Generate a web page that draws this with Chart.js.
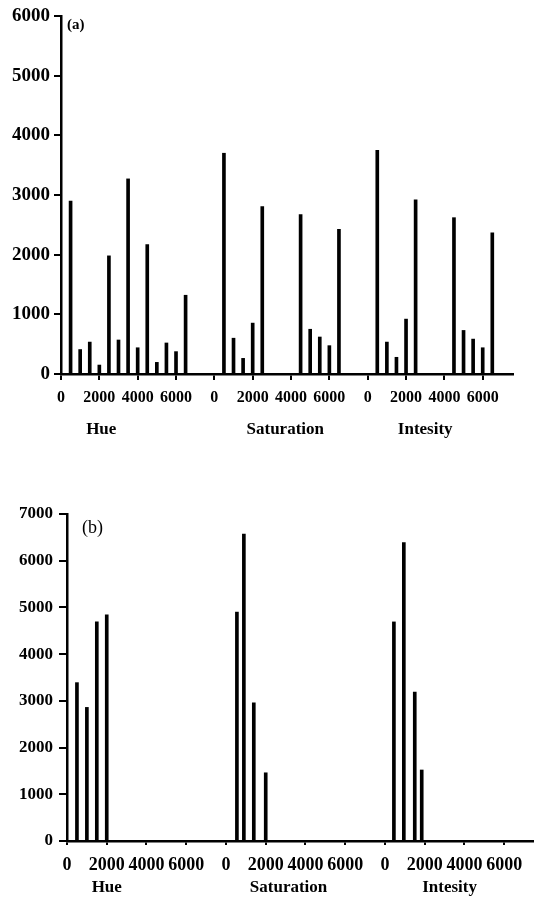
<!DOCTYPE html>
<html>
<head>
<meta charset="utf-8">
<script src="https://cdn.jsdelivr.net/npm/chart.js@4.4.0/dist/chart.umd.min.js"></script>
<style>
  html, body { margin: 0; padding: 0; background: #fff; }
  #wrapA { position: absolute; left: 0; top: 0; width: 538px; height: 450px; }
  #wrapB { position: absolute; left: 0; top: 450px; width: 538px; height: 450px; }
</style>
</head>
<body>
<div id="wrapA"><canvas id="chartA" width="538" height="450"></canvas></div>
<div id="wrapB"><canvas id="chartB" width="538" height="450"></canvas></div>
<script>
// ---------- data ----------
const groupNames = ["Hue", "Saturation", "Intesity"];
const groupSpan = 8000;            // each group occupies 0..8000 on the shared axis
const xTickValues = [0, 2000, 4000, 6000, 8000, 10000, 12000, 14000, 16000, 18000, 20000, 22000];

// panel (a)
const hueXA = [500, 1000, 1500, 2000, 2500, 3000, 3500, 4000, 4500, 5000, 5500, 6000, 6500];
const hueYA = [2900, 410, 535, 150, 1980, 570, 3270, 440, 2170, 195, 520, 375, 1320];
const satXA = [500, 1000, 1500, 2000, 2500, 4500, 5000, 5500, 6000, 6500];
const satYA = [3700, 600, 262, 853, 2805, 2670, 750, 620, 475, 2425];
const intXA = [500, 1000, 1500, 2000, 2500, 4500, 5000, 5500, 6000, 6500];
const intYA = [3750, 535, 280, 920, 2920, 2620, 730, 585, 440, 2365];

// panel (b)
const hueXB = [500, 1000, 1500, 2000];
const hueYB = [3390, 2860, 4690, 4840];
const satXB = [550, 900, 1400, 2000];
const satYB = [4900, 6570, 2960, 1460];
const intXB = [450, 950, 1500, 1850];
const intYB = [4690, 6390, 3190, 1520];

const FONT = "'Liberation Serif', 'Times New Roman', serif";

function buildPoints(groups) {
  const pts = [];
  groups.forEach((g, gi) => {
    g.x.forEach((xv, i) => pts.push({ x: gi * groupSpan + xv, y: g.y[i] }));
  });
  return pts;
}

function labelPlugin(panelLabel, panelFont, panelPos, groupLabelX, groupLabelY, groupFontSize) {
  return {
    id: 'labels',
    afterDraw(chart) {
      const ctx = chart.ctx;
      const xs = chart.scales.x;
      ctx.save();
      ctx.fillStyle = '#000';
      ctx.textAlign = 'left';
      ctx.textBaseline = 'middle';
      ctx.font = panelFont;
      ctx.fillText(panelLabel, panelPos[0], panelPos[1]);
      ctx.textAlign = 'center';
      ctx.font = 'bold ' + groupFontSize + 'px ' + FONT;
      groupNames.forEach((name, gi) => {
        ctx.fillText(name, xs.getPixelForValue(gi * groupSpan + groupLabelX[gi]), groupLabelY);
      });
      ctx.restore();
    }
  };
}

function makeChart(id, pts, cfg) {
  return new Chart(document.getElementById(id), {
    type: 'bar',
    data: {
      datasets: [{
        data: pts,
        backgroundColor: '#000',
        borderWidth: 0,
        barThickness: cfg.barThickness
      }]
    },
    options: {
      responsive: false,
      animation: false,
      layout: { padding: cfg.padding },
      plugins: { legend: { display: false }, tooltip: { enabled: false } },
      scales: {
        x: {
          type: 'linear',
          offset: false,
          min: 0,
          max: cfg.xMax,
          border: { display: true, color: '#000', width: 2.5 },
          grid: { offset: false, drawOnChartArea: false, drawTicks: true, tickLength: cfg.xTickLen, color: '#000', lineWidth: 2 },
          ticks: {
            autoSkip: false,
            maxRotation: 0,
            color: '#000',
            padding: cfg.xTickPad,
            font: { family: FONT, size: cfg.xFont, weight: 'bold' },
            callback: v => String(v % groupSpan)
          },
          afterBuildTicks: s => { s.ticks = xTickValues.map(v => ({ value: v })); },
          afterFit: s => { s.height = cfg.xHeight; }
        },
        y: {
          min: 0,
          max: cfg.yMax,
          border: { display: true, color: '#000', width: 2.5 },
          grid: { offset: false, drawOnChartArea: false, drawTicks: true, tickLength: cfg.yTickLen, color: '#000', lineWidth: 2 },
          ticks: {
            stepSize: 1000,
            color: '#000',
            padding: cfg.yTickPad,
            font: { family: FONT, size: cfg.yFont, weight: 'bold' },
            callback: v => String(v)
          },
          afterFit: s => { s.width = cfg.yWidth; }
        }
      }
    },
    plugins: [labelPlugin(cfg.panelLabel, cfg.panelFont, cfg.panelPos, cfg.groupLabelX, cfg.groupLabelY, cfg.groupFont)]
  });
}

makeChart('chartA',
  buildPoints([{ x: hueXA, y: hueYA }, { x: satXA, y: satYA }, { x: intXA, y: intYA }]),
  {
    padding: { top: 16, right: 25, left: 0, bottom: 0 },
    xMax: 23580, yMax: 6000,
    xHeight: 76, yWidth: 61,
    xTickLen: 6, yTickLen: 7, xTickPad: 8, yTickPad: 4,
    xFont: 16, yFont: 19,
    barThickness: 3,
    panelLabel: '(a)', panelFont: 'bold 15px ' + FONT, panelPos: [67, 25],
    groupLabelX: [2100, 3700, 3000], groupLabelY: 430, groupFont: 17
  });

makeChart('chartB',
  buildPoints([{ x: hueXB, y: hueYB }, { x: satXB, y: satYB }, { x: intXB, y: intYB }]),
  {
    padding: { top: 64, right: 5, left: 0, bottom: 0 },
    xMax: 23450, yMax: 7000,
    xHeight: 59, yWidth: 67,
    xTickLen: 4, yTickLen: 8, xTickPad: 10, yTickPad: 6,
    xFont: 18, yFont: 17,
    barThickness: 3,
    panelLabel: '(b)', panelFont: '18px ' + FONT, panelPos: [82, 78],
    groupLabelX: [2000, 3150, 3250], groupLabelY: 438, groupFont: 17
  });
</script>
</body>
</html>
